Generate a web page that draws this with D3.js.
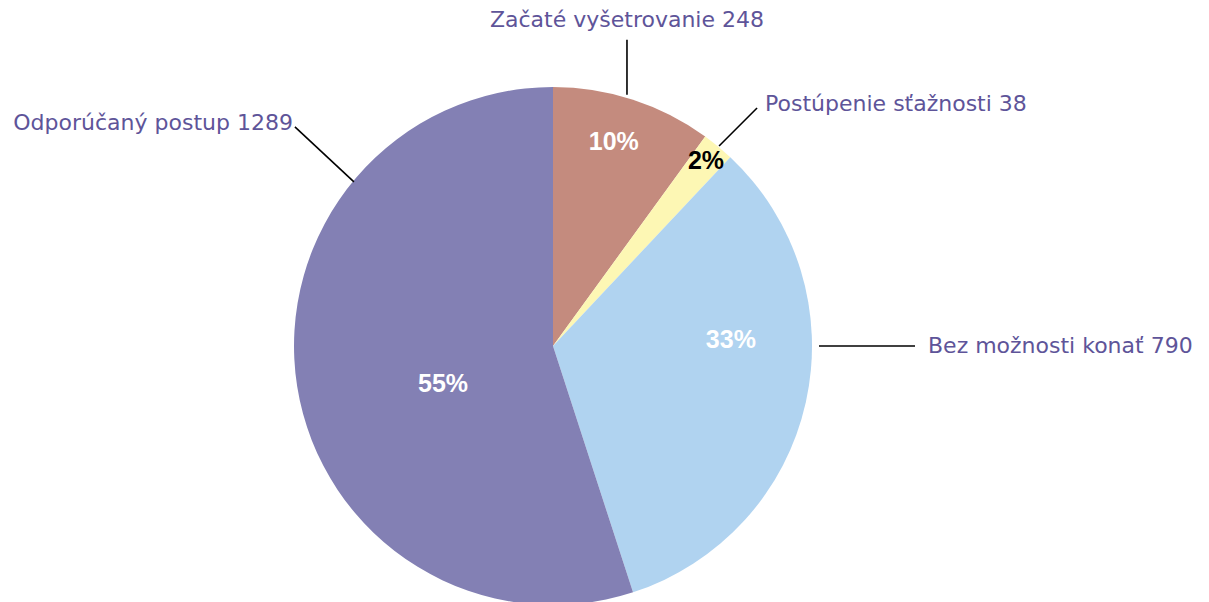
<!DOCTYPE html>
<html>
<head>
<meta charset="utf-8">
<script src="https://cdn.jsdelivr.net/npm/d3@7"></script>
<style>
  body { margin: 0; background: #fff; }
  svg { display: block; }
</style>
</head>
<body>
<svg id="chart" width="1209" height="602"></svg>
<script>
// slices, clockwise from 12 o'clock
const categories = ['Začaté vyšetrovanie', 'Postúpenie sťažnosti', 'Bez možnosti konať', 'Odporúčaný postup']
const counts = [248, 38, 790, 1289]
// the slices are drawn from the rounded shares, not the counts
const shares = [10, 2, 33, 55]
const percentLabels = ['10%', '2%', '33%', '55%']

const colors = ['#c48b7e', '#fdf7b4', '#b0d3f0', '#8380b4']
const pctColors = ['#fff', '#000', '#fff', '#fff']

const CX = 553
const CY = 346
const R = 259

// label placement: percent label (angle deg, radius), leader start angle,
// leader end offset, text anchor + offset from leader end
const layout = [
  { pa: 16.5, pr: 214, la: 16.4, lr: 262, dx: 0, dy: -55, anchor: 'middle', tx: 0, ty: -13 },
  { pa: 39.4, pr: 241, la: 39.7, lr: 260, dx: 38, dy: -38, anchor: 'start', tx: 8, ty: 3 },
  { pa: 87.9, pr: 178, la: 90, lr: 266, dx: 96, dy: 0, anchor: 'start', tx: 13, ty: 7 },
  { pa: 251.4, pr: 116, la: 309.5, lr: 258, dx: -59, dy: -55, anchor: 'end', tx: -2, ty: 3 }
]

const svg = d3.select('#chart')
const g = svg.append('g').attr('transform', 'translate(' + CX + ',' + CY + ')')

const pie = d3.pie().sort(null).value(function (d) { return d })
const arc = d3.arc().innerRadius(0).outerRadius(R)
const arcs = pie(shares)

g.selectAll('path.slice')
  .data(arcs)
  .enter().append('path')
  .attr('class', 'slice')
  .attr('d', arc)
  .attr('fill', function (d, i) { return colors[i] })

const rad = Math.PI / 180

arcs.forEach(function (d, i) {
  const L = layout[i]
  const p = d3.pointRadial(L.pa * rad, L.pr)
  g.append('text')
    .text(percentLabels[i])
    .attr('x', p[0])
    .attr('y', p[1])
    .attr('dy', '0.36em')
    .attr('text-anchor', 'middle')
    .attr('font-family', 'Liberation Sans, Arial, sans-serif')
    .attr('font-weight', 'bold')
    .attr('font-size', 25)
    .attr('fill', pctColors[i])

  const s = d3.pointRadial(L.la * rad, L.lr)
  const e = [s[0] + L.dx, s[1] + L.dy]
  g.append('line')
    .attr('x1', s[0]).attr('y1', s[1])
    .attr('x2', e[0]).attr('y2', e[1])
    .attr('stroke', '#000')
    .attr('stroke-width', 1.6)

  g.append('text')
    .text(categories[i] + ' ' + counts[i])
    .attr('x', e[0] + L.tx)
    .attr('y', e[1] + L.ty)
    .attr('text-anchor', L.anchor)
    .attr('font-family', 'DejaVu Sans, sans-serif')
    .attr('font-size', 22)
    .attr('fill', '#5e5499')
})
</script>
</body>
</html>
